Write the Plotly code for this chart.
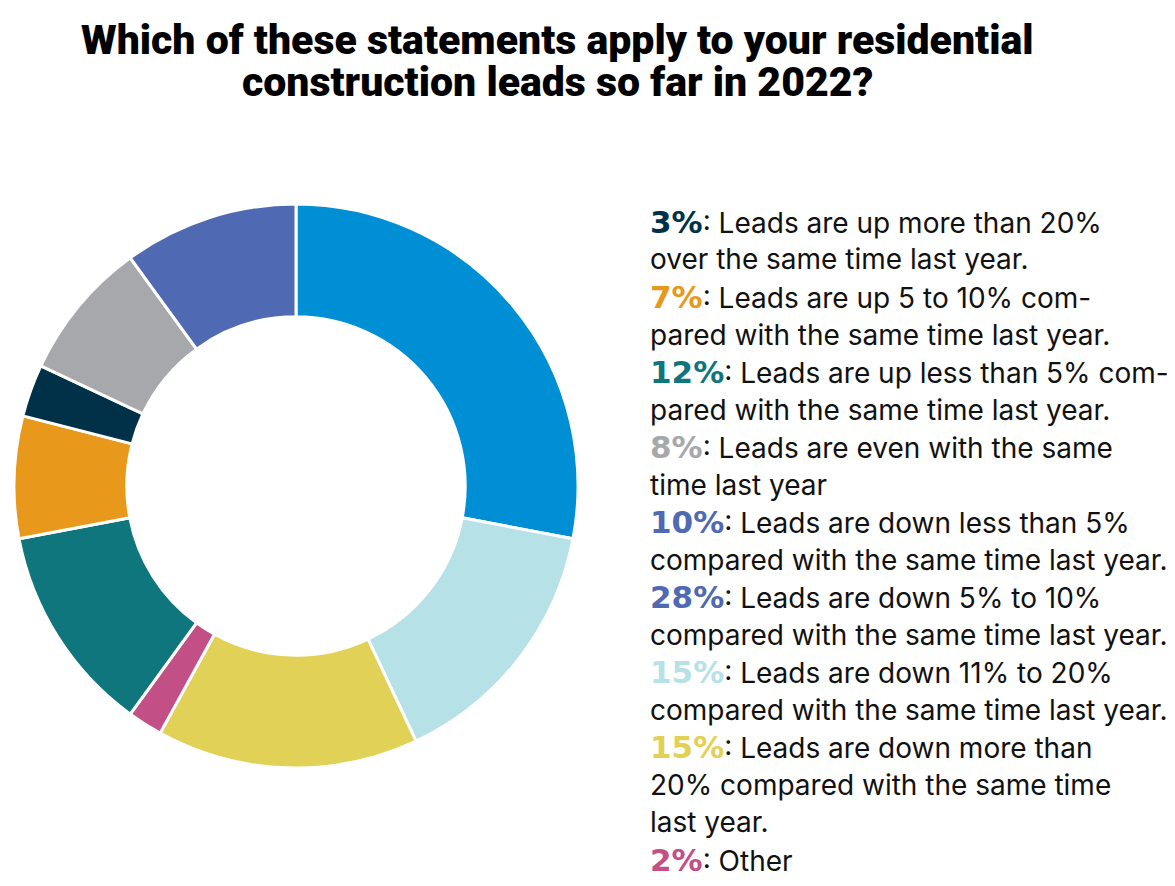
import plotly.graph_objects as go

# ---- data (slice order, clockwise from 12 o'clock) ----
slice_labels = [
    "Leads are down 5% to 10%",
    "Leads are down 11% to 20%",
    "Leads are down more than 20%",
    "Other",
    "Leads are up less than 5%",
    "Leads are up 5 to 10%",
    "Leads are up more than 20%",
    "Leads are even",
    "Leads are down less than 5%",
]
slice_values = [28, 15, 15, 2, 12, 7, 3, 8, 10]
slice_colors = ["#008fd5", "#b6e1e7", "#e1d157", "#c34f87", "#0e767c",
                "#e8991c", "#003149", "#a7a8ab", "#5069b3"]

# ---- legend text (as in the reference, order and wrapping) ----
legend_pcts = ["3%", "7%", "12%", "8%", "10%", "28%", "15%", "15%", "2%"]
legend_pct_colors = ["#003149", "#e8991c", "#0e767c", "#a7a8ab", "#5069b3",
                     "#5069b3", "#b6e1e7", "#e1d157", "#c34f87"]
legend_lines = [
    [": Leads are up more than 20%", "over the same time last year."],
    [": Leads are up 5 to 10% com-", "pared with the same time last year."],
    [": Leads are up less than 5% com-", "pared with the same time last year."],
    [": Leads are even with the same", "time last year"],
    [": Leads are down less than 5%", "compared with the same time last year."],
    [": Leads are down 5% to 10%", "compared with the same time last year."],
    [": Leads are down 11% to 20%", "compared with the same time last year."],
    [": Leads are down more than", "20% compared with the same time", "last year."],
    [": Other"],
]
title_lines = ["Which of these statements apply to your residential",
               "construction leads so far in 2022?"]

W, H = 1175, 886
OFF = 8  # page body margin in the browser
BODY_FONT = "Inter"
PCT_FONT = "DejaVu Sans"


def px(x):
    return (x - OFF) / W


def py(y):
    return 1 - (y - OFF) / H


fig = go.Figure(go.Pie(
    labels=slice_labels,
    values=slice_values,
    marker=dict(colors=slice_colors, line=dict(color="white", width=3)),
    hole=0.6,
    sort=False,
    direction="clockwise",
    rotation=0,
    textinfo="none",
    hoverinfo="label+percent",
    showlegend=False,
    domain=dict(x=[px(14), px(578)], y=[py(768), py(204)]),
))

annotations = []
# title
for i, t in enumerate(title_lines):
    annotations.append(dict(
        text=t, x=px(557), y=py(40 + i * 42), xref="paper", yref="paper",
        xanchor="center", yanchor="middle", showarrow=False,
        font=dict(family="Roboto", size=41, color="#000000", weight=900),
    ))

# legend lines
line_idx = 0
y0, dy = 222, 37.5
for pct, col, lines in zip(legend_pcts, legend_pct_colors, legend_lines):
    for j, ln in enumerate(lines):
        if j == 0:
            txt = (f"<span style='font-family:{PCT_FONT}; font-weight:bold; "
                   f"font-size:31px; color:{col}'>{pct}</span>{ln}")
        else:
            txt = ln
        annotations.append(dict(
            text=txt, x=px(648), y=py(y0 + line_idx * dy),
            xref="paper", yref="paper", xanchor="left", yanchor="middle",
            showarrow=False, align="left",
            font=dict(family=BODY_FONT, size=28, color="#111111"),
        ))
        line_idx += 1

fig.update_layout(
    width=W, height=H,
    margin=dict(l=0, r=0, t=0, b=0),
    paper_bgcolor="white", plot_bgcolor="white",
    annotations=annotations,
)

fig.write_html("out.html")
